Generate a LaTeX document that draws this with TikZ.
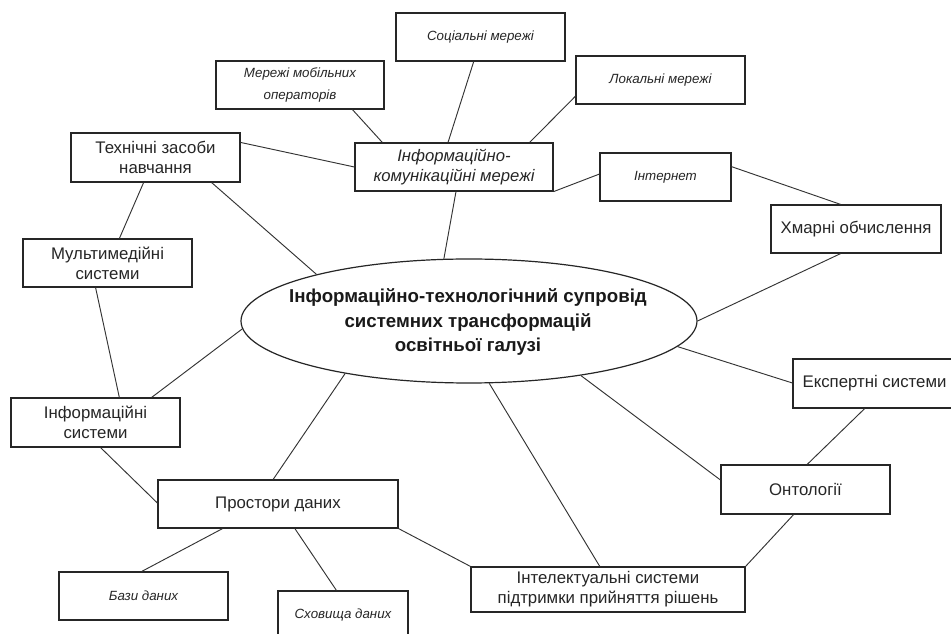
\documentclass[tikz,border=0pt]{standalone}
\usepackage{fontspec}
\setmainfont{Liberation Sans}
\usetikzlibrary{calc,shapes.geometric}
\newcommand{\pbox}[7]{\node[#1, minimum width={0.75pt*(#5-#3)}, minimum height={0.75pt*(#6-#4)}] (#2) at ({(#3+#5)/2},{(#4+#6)/2}) {#7};}
\begin{document}
\begin{tikzpicture}[x=0.75pt,y=-0.75pt,
  box/.style={draw=black!85, line width=0.9pt, rectangle, align=center, inner sep=0pt, text=black!85, font=\fontsize{12.6}{15}\selectfont},
  ibox/.style={box, font=\fontsize{10}{16.5}\selectfont\itshape},
  bigibox/.style={box, font=\fontsize{12.5}{15}\selectfont\itshape},
  link/.style={draw=black!80, line width=0.7pt}]
\useasboundingbox (0,0) rectangle (951,634);
\fill[white] (0,0) rectangle (951,634);

% central ellipse
\node[ellipse, draw=black!85, line width=0.9pt, inner sep=0pt, minimum width={0.75pt*456}, minimum height={0.75pt*124}] (ell) at (469,321) {};
\node[align=center, text=black!90, font=\fontsize{14}{18.4}\selectfont\bfseries] (elltext) at (468,322) {Інформаційно-технологічний супровід\\системних трансформацій\\освітньої галузі};

% boxes
\pbox{ibox}{soc}{396}{13}{565}{61}{Соціальні мережі}
\pbox{ibox}{mob}{216}{61}{384}{109}{Мережі мобільних\\операторів}
\pbox{ibox}{lok}{576}{56}{745}{104}{Локальні мережі}
\pbox{ibox}{inet}{600}{153}{731}{201}{Інтернет}
\pbox{bigibox}{ikm}{355}{143}{553}{191}{Інформаційно-\\комунікаційні мережі}
\pbox{box}{tech}{71}{133}{240}{182}{Технічні засоби\\навчання}
\pbox{box}{multi}{23}{239}{192}{287}{Мультимедійні\\системи}
\pbox{box}{cloud}{771}{205}{941}{253}{Хмарні обчислення}
\pbox{box}{infs}{11}{398}{180}{447}{Інформаційні\\системи}
\pbox{box}{prost}{158}{480}{398}{528}{Простори даних}
\pbox{ibox}{baz}{59}{572}{228}{620}{Бази даних}
\pbox{ibox}{shov}{278}{591}{408}{639}{Сховища даних}
\pbox{box}{intel}{471}{567}{745}{612}{Інтелектуальні системи\\підтримки прийняття рішень}
\pbox{box}{exp}{793}{359}{956}{408}{Експертні системи}
\pbox{box}{ont}{721}{465}{890}{514}{Онтології}

% connectors
\draw[link] ($(mob.south west)!0.81!(mob.south east)$) -- ($(ikm.north west)!0.14!(ikm.north east)$);
\draw[link] ($(soc.south west)!0.46!(soc.south east)$) -- ($(ikm.north west)!0.47!(ikm.north east)$);
\draw[link] ($(lok.north west)!0.83!(lok.south west)$) -- ($(ikm.north west)!0.88!(ikm.north east)$);
\draw[link] (ikm.south east) -- ($(inet.north west)!0.44!(inet.south west)$);
\draw[link] ($(inet.north east)!0.29!(inet.south east)$) -- ($(cloud.north west)!0.41!(cloud.north east)$);
\draw[link] ($(cloud.south west)!0.41!(cloud.south east)$) -- (ell.east);
\draw[link] ($(tech.north east)!0.2!(tech.south east)$) -- (ikm.west);
\draw[link] ($(tech.south west)!0.83!(tech.south east)$) -- (ell.163.8);
\draw[link] ($(ikm.south west)!0.51!(ikm.south east)$) -- (ell.112);
\draw[link] ($(tech.south west)!0.43!(tech.south east)$) -- ($(multi.north west)!0.57!(multi.north east)$);
\draw[link] ($(multi.south west)!0.43!(multi.south east)$) -- ($(infs.north west)!0.64!(infs.north east)$);
\draw[link] (ell.182.3) -- ($(infs.north west)!0.83!(infs.north east)$);
\draw[link] ($(infs.south west)!0.53!(infs.south east)$) -- ($(prost.north west)!0.48!(prost.south west)$);
\draw[link] (ell.203.9) -- ($(prost.north west)!0.48!(prost.north east)$);
\draw[link] ($(prost.south west)!0.27!(prost.south east)$) -- ($(baz.north west)!0.49!(baz.north east)$);
\draw[link] ($(prost.south west)!0.57!(prost.south east)$) -- ($(shov.north west)!0.45!(shov.north east)$);
\draw[link] (prost.south east) -- (intel.north west);
\draw[link] (ell.288.2) -- ($(intel.north west)!0.47!(intel.north east)$);
\draw[link] (ell.334.6) -- ($(ont.north west)!0.31!(ont.south west)$);
\draw[link] (ell.353) -- ($(exp.north west)!0.49!(exp.south west)$);
\draw[link] ($(exp.south west)!0.44!(exp.south east)$) -- ($(ont.north west)!0.51!(ont.north east)$);
\draw[link] ($(ont.south west)!0.43!(ont.south east)$) -- (intel.north east);
\end{tikzpicture}
\end{document}
